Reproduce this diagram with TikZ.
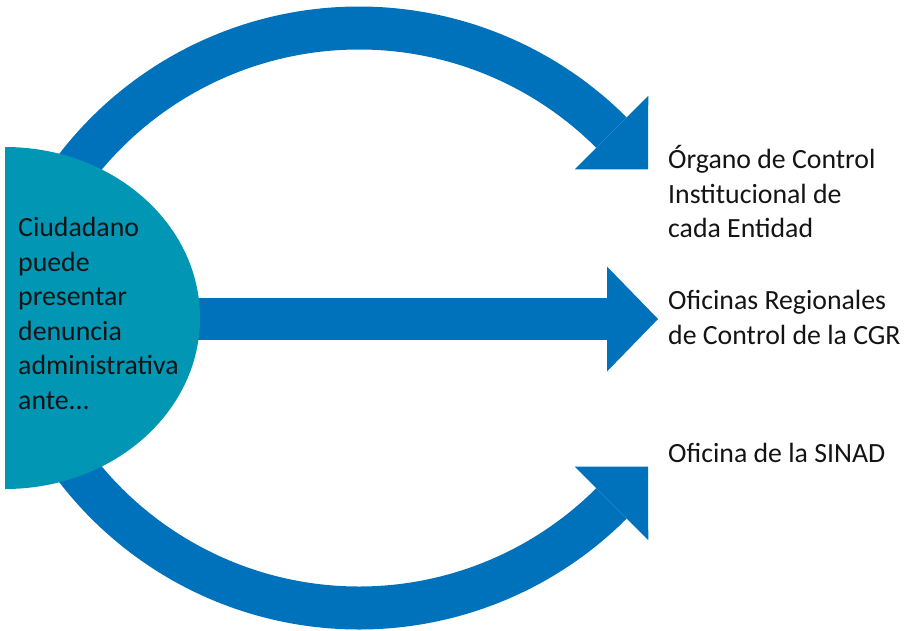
\documentclass[tikz,border=0pt]{standalone}
\usepackage{fontspec}
\setmainfont{Carlito}
\usepackage{tikz}
\usetikzlibrary{arrows.meta, positioning}
\definecolor{arrowBlue}{RGB}{0,114,188}
\definecolor{discTeal}{RGB}{0,150,180}
\definecolor{textBlack}{gray}{0.08}

\begin{document}
\begin{tikzpicture}[x=1pt, y=1pt,
        band/.style={arrowBlue, line width=43pt, line cap=butt,
            -{Triangle[length=52pt, width=104pt, line width=0pt]}},
        label/.style={anchor=north west, inner sep=0pt, align=left, text=textBlack,
            font=\fontsize{27.8}{34.6}\selectfont}]
        \useasboundingbox (0,0) rectangle (907,-630);

        \coordinate (topfrom) at (49.8,-206.5);
        \coordinate (toptip) at (648.2,-169.4);
        \coordinate (midfrom) at (100,-319);
        \coordinate (midtip) at (658,-319);
        \coordinate (botfrom) at (49.8,-429.5);
        \coordinate (bottip) at (648.2,-466.6);

        \draw[band] (topfrom) arc[start angle=150, end angle=45, radius=357] -- (toptip);
        \draw[band, line width=42pt, -{Triangle[length=51pt, width=105pt, line width=0pt]}] (midfrom) -- (midtip);
        \draw[band] (botfrom) arc[start angle=-150, end angle=-45, radius=357] -- (bottip);

        % half disc of the citizen
        \fill[discTeal] (5,-147) arc[start angle=90, end angle=-90, x radius=195, y radius=171] -- cycle;

        \node[label] (ciudadano) at (18,-217) {Ciudadano\\puede\\presentar\\denuncia\\administrativa\\ante...};
        \node[label] (organo) at (668,-145) {Órgano de Control\\Institucional de\\cada Entidad};
        \node[label] (oficinas) at (668,-290) {Oficinas Regionales\\de Control de la CGR};
        \node[label] (sinad) at (668,-443) {Oficina de la SINAD};
    \end{tikzpicture}
\end{document}
